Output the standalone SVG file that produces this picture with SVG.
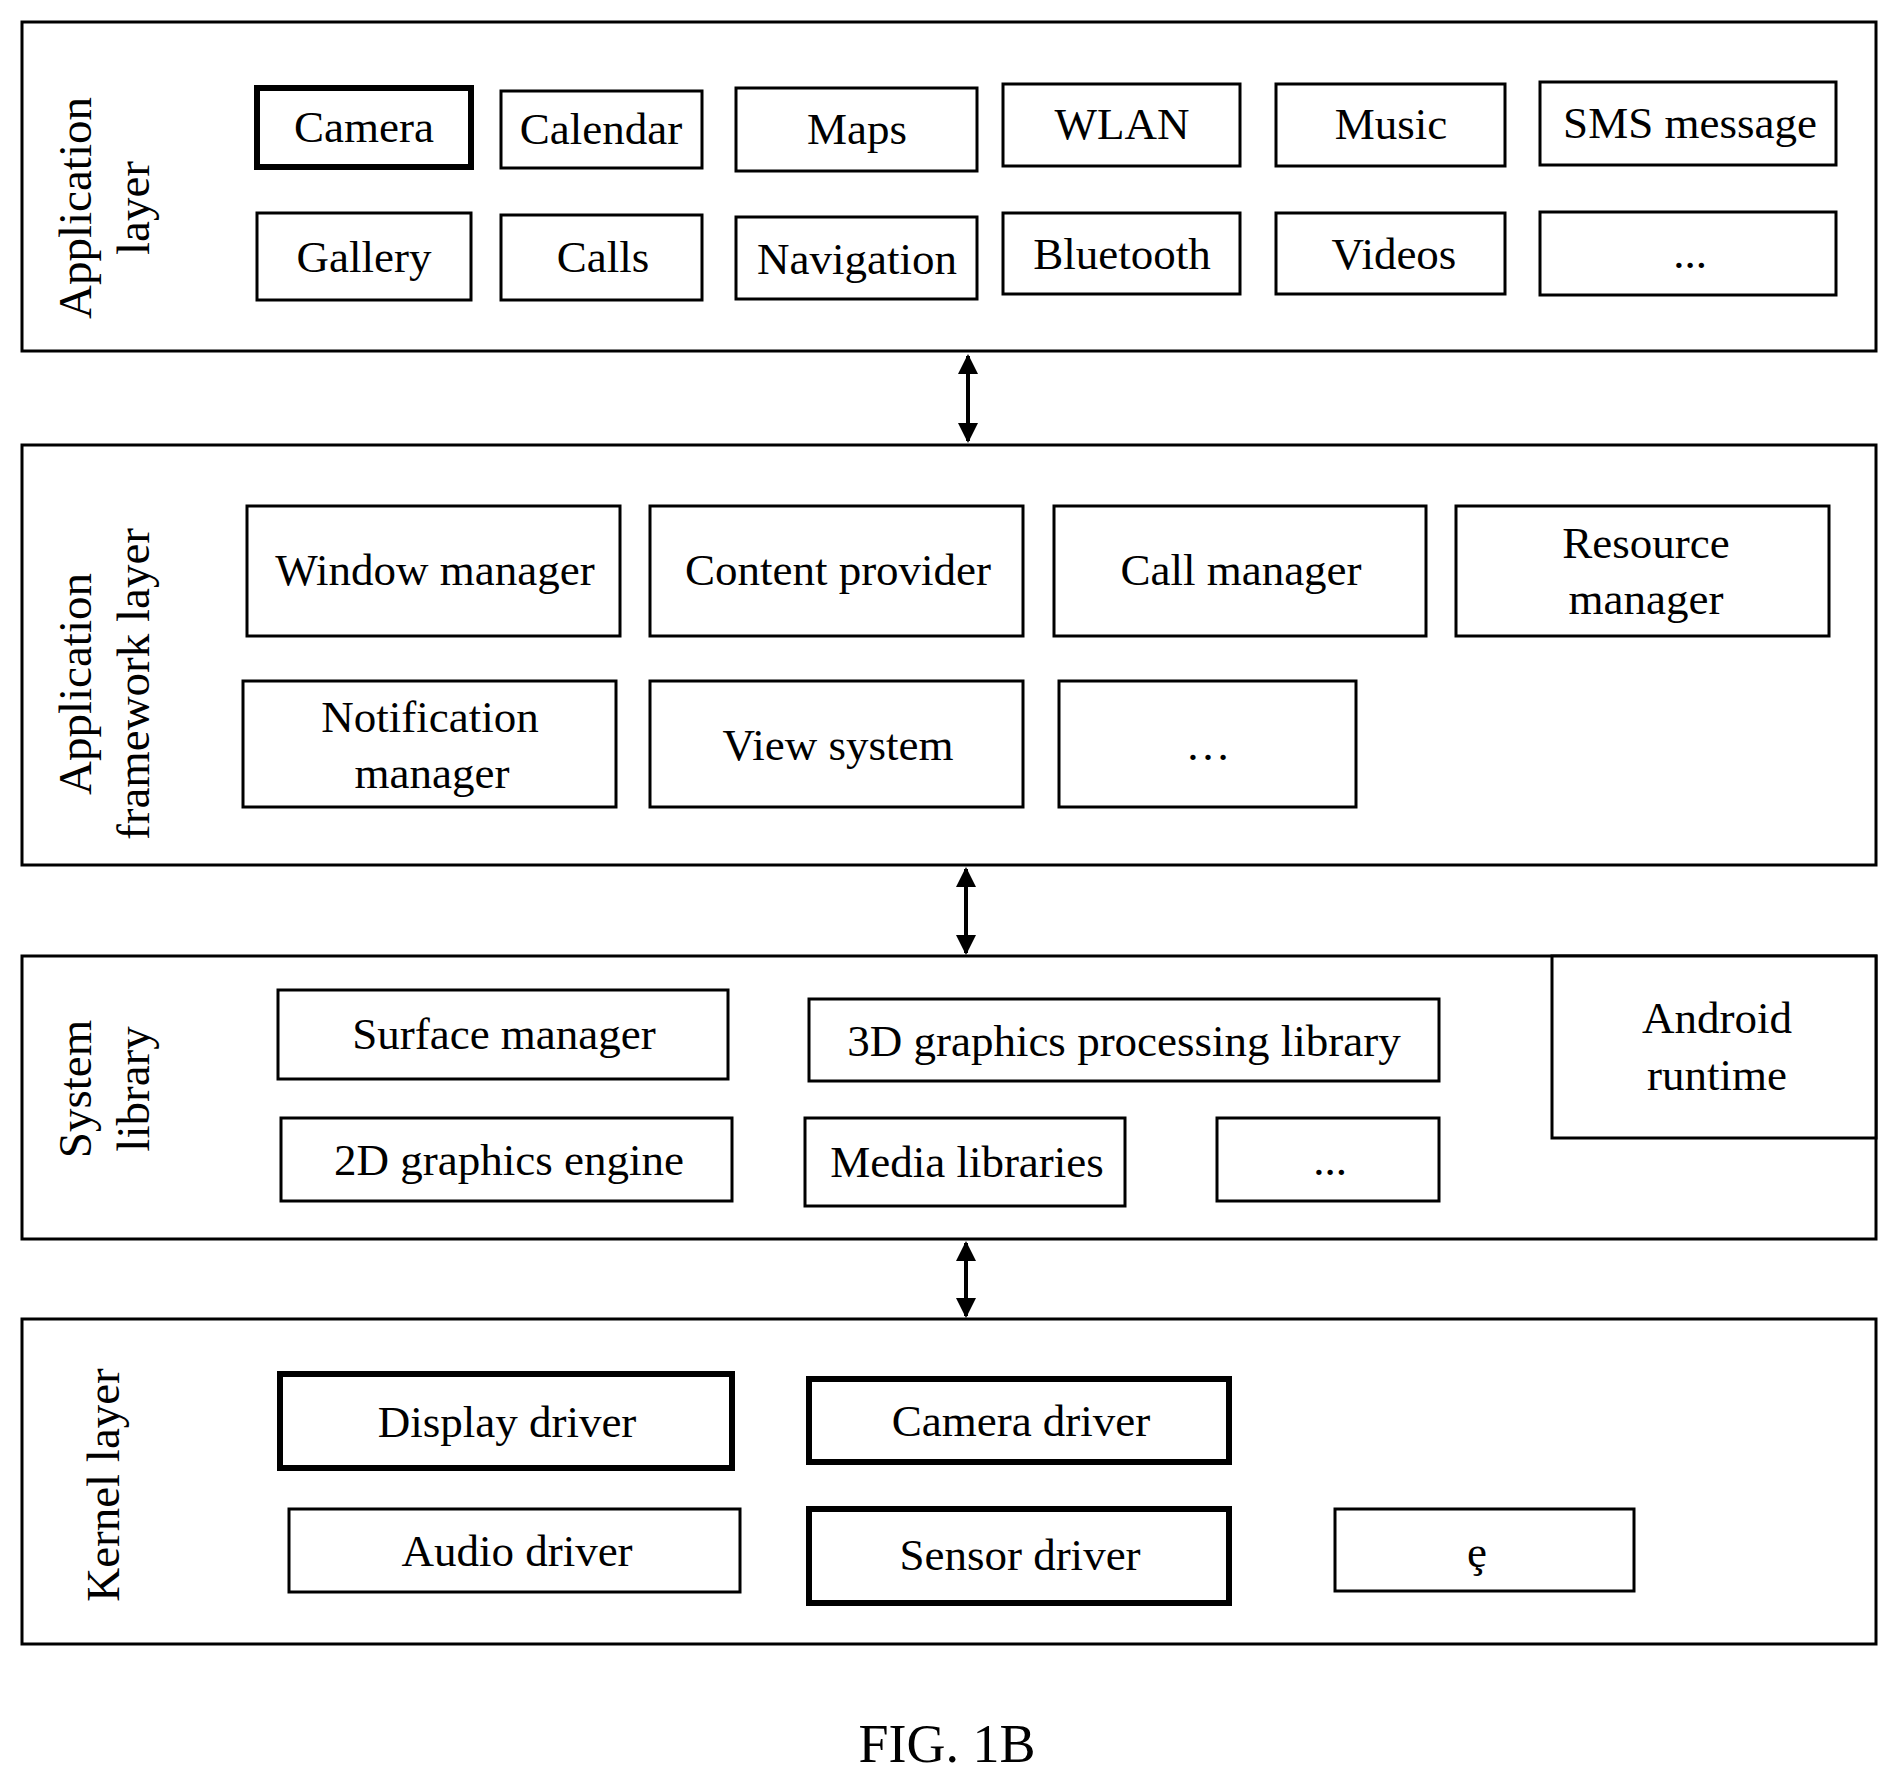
<svg xmlns="http://www.w3.org/2000/svg" width="1898" height="1786" viewBox="0 0 1898 1786">
<style>
rect{fill:#fff;stroke:#000;stroke-width:3}
rect.bg{stroke:none}
rect.t{stroke-width:6}
text{font-family:"Liberation Serif","Times New Roman",serif;font-size:45px;text-anchor:middle;fill:#000}
text.s{font-size:47px}
line{stroke:#000;stroke-width:4}
</style>
<defs><marker id="a" viewBox="0 0 10 10" refX="9" refY="5" markerWidth="5" markerHeight="5" orient="auto-start-reverse"><path d="M0,0L10,5L0,10z" fill="#000"/></marker></defs>
<rect class="bg" width="1898" height="1786"/>
<g id="layer-app"><rect x="22" y="22" width="1854" height="329"/>
<text class="s" transform="translate(103,208) rotate(-90)"><tspan x="0" y="-12">Application</tspan><tspan x="0" y="46">layer</tspan></text></g>
<g id="layer-fw"><rect x="22" y="445" width="1854" height="420"/>
<text class="s" transform="translate(103,684) rotate(-90)"><tspan x="0" y="-12">Application</tspan><tspan x="0" y="46">framework layer</tspan></text></g>
<g id="layer-sys"><rect x="22" y="956" width="1854" height="283"/>
<text class="s" transform="translate(103,1089) rotate(-90)"><tspan x="0" y="-12">System</tspan><tspan x="0" y="46">library</tspan></text></g>
<g id="layer-kernel"><rect x="22" y="1319" width="1854" height="325"/>
<text class="s" transform="translate(103,1485) rotate(-90)"><tspan x="0" y="16">Kernel layer</tspan></text></g>
<g id="app-camera"><rect class="t" x="257" y="88" width="214" height="79"/><text x="364" y="142">Camera</text></g>
<g id="app-calendar"><rect x="501" y="91" width="201" height="77"/><text x="601" y="144">Calendar</text></g>
<g id="app-maps"><rect x="736" y="88" width="241" height="83"/><text x="857" y="144">Maps</text></g>
<g id="app-wlan"><rect x="1003" y="84" width="237" height="82"/><text x="1122" y="139">WLAN</text></g>
<g id="app-music"><rect x="1276" y="84" width="229" height="82"/><text x="1391" y="139">Music</text></g>
<g id="app-sms"><rect x="1540" y="82" width="296" height="83"/><text x="1690" y="138">SMS message</text></g>
<g id="app-gallery"><rect x="257" y="213" width="214" height="87"/><text x="364" y="272">Gallery</text></g>
<g id="app-calls"><rect x="501" y="215" width="201" height="85"/><text x="603" y="272">Calls</text></g>
<g id="app-nav"><rect x="736" y="217" width="241" height="82"/><text x="857" y="274">Navigation</text></g>
<g id="app-bt"><rect x="1003" y="213" width="237" height="81"/><text x="1122" y="269">Bluetooth</text></g>
<g id="app-videos"><rect x="1276" y="213" width="229" height="81"/><text x="1394" y="269">Videos</text></g>
<g id="app-more"><rect x="1540" y="212" width="296" height="83"/><text x="1690" y="268">...</text></g>
<g id="fw-window"><rect x="247" y="506" width="373" height="130"/><text x="435" y="585">Window manager</text></g>
<g id="fw-content"><rect x="650" y="506" width="373" height="130"/><text x="838" y="585">Content provider</text></g>
<g id="fw-call"><rect x="1054" y="506" width="372" height="130"/><text x="1241" y="585">Call manager</text></g>
<g id="fw-resource"><rect x="1456" y="506" width="373" height="130"/><text x="1646" y="558">Resource</text><text x="1646" y="614">manager</text></g>
<g id="fw-notif"><rect x="243" y="681" width="373" height="126"/><text x="430" y="732">Notification</text><text x="432" y="788">manager</text></g>
<g id="fw-view"><rect x="650" y="681" width="373" height="126"/><text x="838" y="760">View system</text></g>
<g id="fw-more"><rect x="1059" y="681" width="297" height="126"/><text x="1208" y="760">…</text></g>
<g id="sys-surface"><rect x="278" y="990" width="450" height="89"/><text x="504" y="1049">Surface manager</text></g>
<g id="sys-3d"><rect x="809" y="999" width="630" height="82"/><text x="1124" y="1056">3D graphics processing library</text></g>
<g id="sys-2d"><rect x="281" y="1118" width="451" height="83"/><text x="509" y="1175">2D graphics engine</text></g>
<g id="sys-media"><rect x="805" y="1118" width="320" height="88"/><text x="967" y="1177">Media libraries</text></g>
<g id="sys-more"><rect x="1217" y="1118" width="222" height="83"/><text x="1330" y="1175">...</text></g>
<g id="sys-android"><rect x="1552" y="956" width="324" height="182"/><text x="1717" y="1033">Android</text><text x="1717" y="1090">runtime</text></g>
<g id="k-display"><rect class="t" x="280" y="1374" width="452" height="94"/><text x="507" y="1437">Display driver</text></g>
<g id="k-camera"><rect class="t" x="809" y="1379" width="420" height="83"/><text x="1021" y="1436">Camera driver</text></g>
<g id="k-audio"><rect x="289" y="1509" width="451" height="83"/><text x="517" y="1566">Audio driver</text></g>
<g id="k-sensor"><rect class="t" x="809" y="1509" width="420" height="94"/><text x="1020" y="1570">Sensor driver</text></g>
<g id="k-more"><rect x="1335" y="1509" width="299" height="82"/><text x="1477" y="1567">ȩ</text></g>
<g id="connectors">
<line x1="968" y1="356" x2="968" y2="441" marker-start="url(#a)" marker-end="url(#a)"/>
<line x1="966" y1="869" x2="966" y2="953" marker-start="url(#a)" marker-end="url(#a)"/>
<line x1="966" y1="1243" x2="966" y2="1316" marker-start="url(#a)" marker-end="url(#a)"/>
</g>
<text x="947" y="1762" style="font-size:54px">FIG. 1B</text>
</svg>
